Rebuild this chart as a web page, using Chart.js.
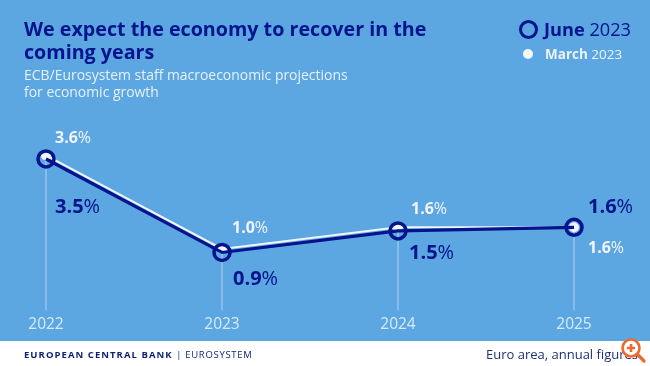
<!DOCTYPE html>
<html><head><meta charset="utf-8">
<script src="https://cdn.jsdelivr.net/npm/chart.js@4"></script>
<style>
html,body{margin:0;padding:0;background:#fff}
#wrap{position:relative;width:650px;height:366px;overflow:hidden;font-family:"Open Sans",sans-serif;background:#fff}
#bg{position:absolute;left:0;top:0;width:650px;height:341px;background:#5ca6e1}
canvas{position:absolute;left:0;top:0}
.t{position:absolute;white-space:nowrap}
#title{left:24px;top:18px;font-size:19.7px;font-weight:700;line-height:22.5px;color:#03148c}
#sub{left:24px;top:67px;font-size:13.95px;line-height:16.5px;color:#e6f1fb}
#l1{left:544px;top:16px;font-size:18.2px;line-height:26px;color:#03148c}
#l2{left:545px;top:44px;font-size:13.5px;line-height:20px;color:#eaf3fc}
b{font-weight:700}
#lr{position:absolute;left:519px;top:20px;width:13px;height:13px;border:3.5px solid #03148c;border-radius:50%}
#ld{position:absolute;left:523px;top:49px;width:10px;height:10px;background:#f4f6fa;border-radius:50%}
#ecb{left:24px;top:348px;font-size:9.5px;font-weight:700;letter-spacing:1.05px;line-height:13px;color:#0b1f78}
#ecb span{font-weight:400;letter-spacing:.7px}
#note{left:486px;top:344px;font-size:13px;line-height:20px;color:#1f2f78}
#zoom{position:absolute;left:620px;top:336px}
</style></head><body>
<div id="wrap">
<div id="bg"></div>
<canvas id="c" width="650" height="366"></canvas>
<div class="t" id="title">We expect the economy to recover in the<br>coming years</div>
<div class="t" id="sub">ECB/Eurosystem staff macroeconomic projections<br>for economic growth</div>
<div id="lr"></div><div class="t" id="l1"><b>June</b> 2023</div>
<div id="ld"></div><div class="t" id="l2"><b>March</b> 2023</div>
<div class="t" id="ecb">EUROPEAN CENTRAL BANK <span>| EUROSYSTEM</span></div>
<div class="t" id="note">Euro area, annual figures</div>
<svg id="zoom" width="28" height="28" viewBox="0 0 28 28"><circle cx="11" cy="12" r="8.5" fill="#fff" stroke="#ee6a2c" stroke-width="2.6"/><path d="M17.5 18.5L24 25" stroke="#ee6a2c" stroke-width="3.2" stroke-linecap="round"/><path d="M11 8v8M7 12h8" stroke="#ee6a2c" stroke-width="2.6"/></svg>
</div>
<script>
const categories = ["2022","2023","2024","2025"];
const juneValues = [3.5,0.9,1.5,1.6];
const marchValues = [3.6,1.0,1.6,1.6];
const juneLabels = ["3.5","0.9","1.5","1.6"];
const marchLabels = ["3.6","1.0","1.6","1.6"];
const AXIS_MIN = -0.7, AXIS_MAX = 4;
const NAVY = "#03148c", WHITE = "#f2f5fa";

const labelPlugin = {
  id:"valueLabels",
  afterDatasetsDraw(chart){
    const {ctx,scales:{x,y}} = chart;
    const draw = (num,v,i,dx,dy,size,color)=>{
      const px = x.getPixelForValue(i)+dx, py = y.getPixelForValue(v)+dy;
      ctx.save();
      ctx.fillStyle = color; ctx.textBaseline="middle"; ctx.textAlign="left";
      ctx.font = `700 ${size}px "Open Sans"`;
      ctx.fillText(num,px,py);
      const w = ctx.measureText(num).width;
      ctx.font = `400 ${size}px "Open Sans"`;
      ctx.fillText("%",px+w,py);
      ctx.restore();
    };
    const june = [[9,48],[11,27],[11,22],[14,-20]];
    const march = [[9,-17],[10,-20],[13,-18],[14,21]];
    juneValues.forEach((v,i)=>draw(juneLabels[i],v,i,june[i][0],june[i][1],20,NAVY));
    marchValues.forEach((v,i)=>draw(marchLabels[i],v,i,march[i][0],march[i][1],16,WHITE));
  }
};

new Chart(document.getElementById("c"),{
  type:"line",
  data:{labels:categories,datasets:[
    {type:"bar",data:juneValues.map(v=>[AXIS_MIN,v]),backgroundColor:"rgba(255,255,255,0.32)",barThickness:1,clip:false,order:5},
    {label:"March 2023",data:marchValues,borderColor:WHITE,borderWidth:2,pointRadius:5,pointBackgroundColor:WHITE,pointBorderWidth:0,tension:0,clip:false,order:3},
    {label:"June 2023",data:juneValues,borderColor:NAVY,borderWidth:3.2,pointRadius:8,pointBackgroundColor:"rgba(0,0,0,0)",pointBorderColor:NAVY,pointBorderWidth:3.5,tension:0,clip:false,order:1}
  ]},
  options:{
    responsive:false,animation:false,
    layout:{padding:{left:46,right:76,top:141,bottom:26}},
    plugins:{legend:{display:false},title:{display:false},tooltip:{enabled:false}},
    scales:{
      x:{offset:false,grid:{display:false},border:{display:false},
         afterFit(s){s.height=30;},
         ticks:{color:"#d9ebfa",font:{family:"Open Sans",size:15.5},padding:-3,maxRotation:0,autoSkip:false,align:"center"}},
      y:{display:false,min:AXIS_MIN,max:AXIS_MAX}
    }
  },
  plugins:[labelPlugin]
});
</script>
</body></html>
